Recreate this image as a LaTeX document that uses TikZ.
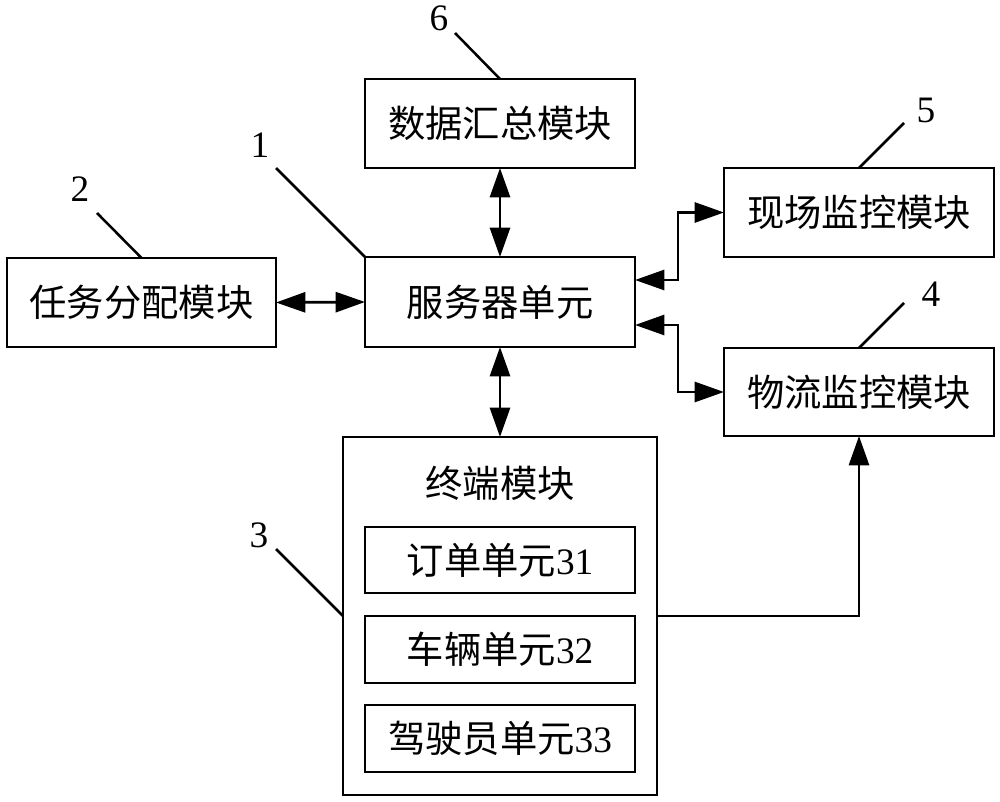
\documentclass[tikz,border=0pt]{standalone}
\usepackage{fontspec}
\setmainfont{Liberation Serif}
\newfontfamily\cjk{Noto Sans CJK SC}
\usetikzlibrary{arrows.meta}
\begin{document}
\begin{tikzpicture}[x=0.75pt,y=-0.75pt,
  box/.style={draw,line width=2.1pt,outer sep=0pt,inner sep=0pt,minimum width=202.5pt,font=\fontsize{28}{30}\selectfont},
  num/.style={font=\fontsize{28}{30}\selectfont,inner sep=0pt},
  conn/.style={line width=2.1pt,{Triangle[length=22pt,width=15pt]}-{Triangle[length=22pt,width=15pt]}},
  oneway/.style={line width=2.1pt,-{Triangle[length=22pt,width=15pt]}},
  lead/.style={line width=1.9pt}]
\useasboundingbox (0,0) rectangle (1000,802);
% boxes
\node[box,minimum height=66.75pt] (data) at (500,123.5) {\cjk 数据汇总模块};
\node[box,minimum height=67.5pt] (server) at (500,302) {\cjk 服务器单元};
\node[box,minimum width=201.75pt,minimum height=66.75pt] (task) at (141.5,302.5) {\cjk 任务分配模块};
\node[box,minimum height=66.75pt] (site) at (859,212.5) {\cjk 现场监控模块};
\node[box,minimum height=66pt] (logi) at (859,392) {\cjk 物流监控模块};
\node[box,minimum width=235.5pt,minimum height=268.5pt] (term) at (500,616) {};
\node[font=\fontsize{28}{30}\selectfont\cjk,inner sep=0pt] (termt) at (500,483) {终端模块};
\node[box,minimum height=49.5pt] (order) at (500,560) {{\cjk 订单单元}31};
\node[box,minimum height=50.25pt] (veh) at (500,649.5) {{\cjk 车辆单元}32};
\node[box,minimum height=50.25pt] (drv) at (500,738.5) {{\cjk 驾驶员单元}33};
% number labels
\node[num] (n6) at (439,18) {6};
\node[num] (n1) at (260,145) {1};
\node[num] (n2) at (80,189) {2};
\node[num] (n5) at (926,110) {5};
\node[num] (n4) at (931,294) {4};
\node[num] (n3) at (259,535) {3};
\coordinate (l6) at (455,33);
\coordinate (l1) at (276,168);
\coordinate (l2) at (97,213);
\coordinate (l5) at (904,123);
\coordinate (l4) at (904,303);
\coordinate (l3) at (276,549);
\draw[lead] (l6) -- (data.north);
\draw[lead] (l1) -- (server.north west);
\draw[lead] (l2) -- (task.north);
\draw[lead] (l5) -- (site.north);
\draw[lead] (l4) -- (logi.north);
\draw[lead] (l3) -- (term.west);
% connectors
\draw[conn] (data.south) -- (server.north);
\draw[conn] (task.east) -- (server.west);
\draw[conn] (server.south) -- (term.north);
\coordinate (c1) at (678,280);
\coordinate (c2) at (678,325);
\coordinate (c3) at (858,616);
\draw[conn] (server.east |- c1) -- (c1) |- (site.west);
\draw[conn] (server.east |- c2) -- (c2) |- (logi.west);
\draw[oneway] (term.east |- c3) -| (logi.south);
\end{tikzpicture}
\end{document}
